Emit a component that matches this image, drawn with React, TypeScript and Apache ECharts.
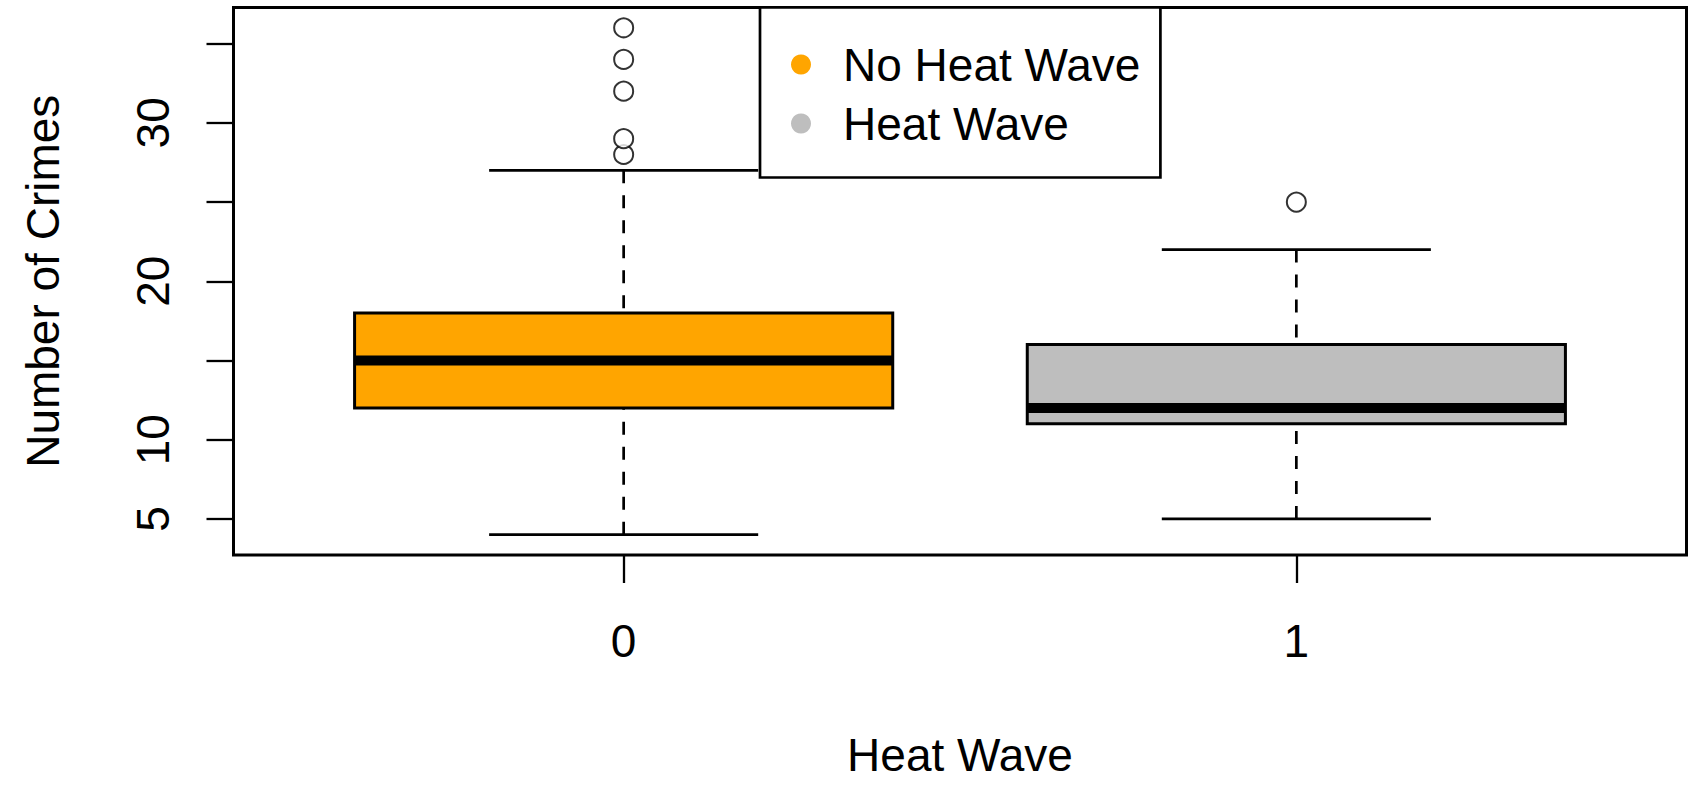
import React, { useEffect, useRef } from "react";
import * as echarts from "echarts";

// ---- data ----
const categories = ["0", "1"];
const groupNames = ["No Heat Wave", "Heat Wave"];
const groupColors = ["#FFA500", "#BEBEBE"];
const whiskerLow = [4, 5];
const quartile1 = [12, 11];
const medians = [15, 12];
const quartile3 = [18, 16];
const whiskerHigh = [27, 22];
const outliersNoHeatWave = [28, 29, 32, 34, 36];
const outliersHeatWave = [25];
const yTickValues = [5, 10, 15, 20, 25, 30, 35];
const yLabelValues = [5, 10, 20, 30];
const xPositions = [1, 2];

const FONT = "'Liberation Sans', Arial, sans-serif";
const BOX_HALF = 0.4;
const CAP_HALF = 0.2;

function renderBox(params: any, api: any) {
  const x = api.value(0);
  const lo = api.value(1);
  const q1 = api.value(2);
  const med = api.value(3);
  const q3 = api.value(4);
  const hi = api.value(5);
  const cx = api.coord([x, med])[0];
  const left = api.coord([x - BOX_HALF, med])[0];
  const right = api.coord([x + BOX_HALF, med])[0];
  const capL = api.coord([x - CAP_HALF, med])[0];
  const capR = api.coord([x + CAP_HALF, med])[0];
  const yLo = api.coord([x, lo])[1];
  const yQ1 = api.coord([x, q1])[1];
  const yMed = api.coord([x, med])[1];
  const yQ3 = api.coord([x, q3])[1];
  const yHi = api.coord([x, hi])[1];
  const wStyle = { stroke: "#000", lineWidth: 2.7, lineDash: [13, 12] };
  const cStyle = { stroke: "#000", lineWidth: 2.7 };
  return {
    type: "group",
    children: [
      { type: "line", shape: { x1: cx, y1: yLo, x2: cx, y2: yQ1 }, style: wStyle },
      { type: "line", shape: { x1: cx, y1: yHi, x2: cx, y2: yQ3 }, style: wStyle },
      { type: "line", shape: { x1: capL, y1: yLo, x2: capR, y2: yLo }, style: cStyle },
      { type: "line", shape: { x1: capL, y1: yHi, x2: capR, y2: yHi }, style: cStyle },
      {
        type: "rect",
        shape: { x: left, y: yQ3, width: right - left, height: yQ1 - yQ3 },
        style: { fill: api.visual("color"), stroke: "#000", lineWidth: 3 },
      },
      {
        type: "line",
        shape: { x1: left, y1: yMed, x2: right, y2: yMed },
        style: { stroke: "#000", lineWidth: 10 },
      },
    ],
  };
}

export default function App() {
  const ref = useRef<HTMLDivElement>(null);
  useEffect(() => {
    if (!ref.current) return;
    const chart = echarts.init(ref.current, null, { renderer: "svg" });
    const outlierData: number[][] = [];
    outliersNoHeatWave.forEach((v) => outlierData.push([xPositions[0], v]));
    outliersHeatWave.forEach((v) => outlierData.push([xPositions[1], v]));

    const option: any = {
      animation: false,
      backgroundColor: "#fff",
      textStyle: { fontFamily: FONT },
      grid: {
        left: 233.5,
        right: 4.5,
        top: 7.5,
        bottom: 231,
        show: true,
        borderColor: "#000",
        borderWidth: 3,
        backgroundColor: "transparent",
      },
      legend: {
        data: groupNames,
        orient: "vertical",
        left: 760,
        top: 7.5,
        backgroundColor: "#fff",
        borderColor: "#000",
        borderWidth: 2.7,
        borderRadius: 0,
        padding: [32, 20, 29, 31],
        itemGap: 9,
        icon: "circle",
        itemWidth: 20,
        itemHeight: 20,
        selectedMode: false,
        itemStyle: { borderWidth: 0 },
        textStyle: {
          fontSize: 46,
          color: "#000",
          fontFamily: FONT,
          lineHeight: 50,
          padding: [0, 0, 0, 27],
        },
      },
      xAxis: {
        type: "value",
        min: 0.42,
        max: 2.58,
        axisLine: { show: false },
        splitLine: { show: false },
        axisTick: {
          show: true,
          length: 28,
          lineStyle: { color: "#000", width: 2.3 },
          customValues: xPositions,
        },
        axisLabel: {
          customValues: xPositions,
          formatter: (v: number) => categories[Math.round(v) - 1] ?? "",
          margin: 63,
          fontSize: 46,
          color: "#000",
          fontFamily: FONT,
        },
        name: "Heat Wave",
        nameLocation: "middle",
        nameGap: 177,
        nameTextStyle: { fontSize: 46, color: "#000", fontFamily: FONT },
      },
      yAxis: {
        type: "value",
        min: 2.72,
        max: 37.28,
        axisLine: { show: false },
        splitLine: { show: false },
        axisTick: {
          show: true,
          length: 27,
          lineStyle: { color: "#000", width: 2.3 },
          customValues: yTickValues,
        },
        axisLabel: {
          customValues: yLabelValues,
          rotate: 90,
          margin: 58,
          fontSize: 46,
          color: "#000",
          fontFamily: FONT,
        },
        name: "Number of Crimes",
        nameLocation: "middle",
        nameRotate: 90,
        nameGap: 168,
        nameTextStyle: { fontSize: 46, color: "#000", fontFamily: FONT },
      },
      series: [
        ...groupNames.map((name, i) => ({
          type: "custom",
          name,
          itemStyle: { color: groupColors[i] },
          encode: { x: 0, y: [1, 2, 3, 4, 5] },
          data: [[xPositions[i], whiskerLow[i], quartile1[i], medians[i], quartile3[i], whiskerHigh[i]]],
          renderItem: renderBox,
          silent: true,
        })),
        {
          type: "scatter",
          name: "outliers",
          symbol: "emptyCircle",
          symbolSize: 19,
          itemStyle: { color: "#000", borderColor: "#000", borderWidth: 2.2 },
          data: outlierData,
          silent: true,
        },
      ],
    };
    chart.setOption(option);
    return () => chart.dispose();
  }, []);
  return (
    <div
      ref={ref}
      style={{ position: "fixed", left: 0, top: 0, width: 1691, height: 786, background: "#fff" }}
    />
  );
}
